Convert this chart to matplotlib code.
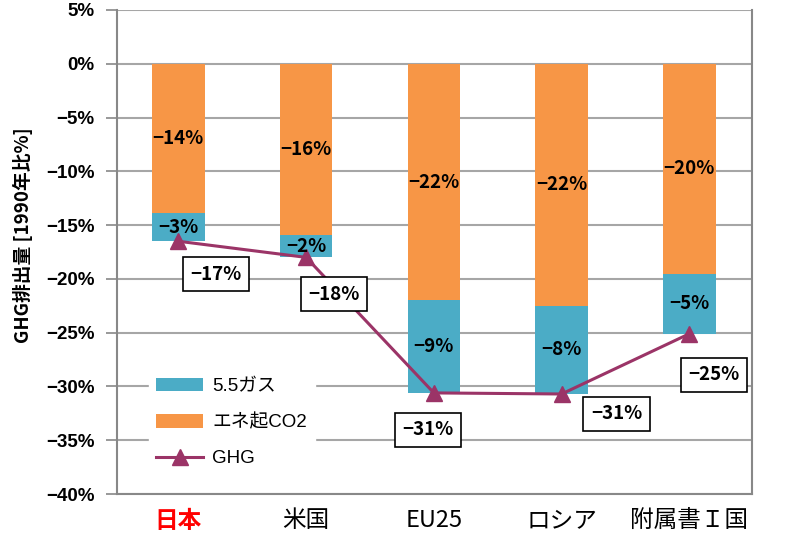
import matplotlib
matplotlib.use("Agg")
import matplotlib.pyplot as plt
import numpy as np

plt.rcParams['font.family'] = ['Noto Sans CJK JP', 'DejaVu Sans']

# data
categories = ["日本", "米国", "EU25", "ロシア", "附属書Ｉ国"]
energy_co2 = [-13.9, -15.9, -22.0, -22.5, -19.5]
gas55 = [-2.6, -2.1, -8.6, -8.2, -5.6]
ghg = [-16.5, -18.0, -30.6, -30.7, -25.1]
energy_labels = ["−14%", "−16%", "−22%", "−22%", "−20%"]
gas_labels = ["−3%", "−2%", "−9%", "−8%", "−5%"]
ghg_labels = ["−17%", "−18%", "−31%", "−31%", "−25%"]
yticks = list(range(5, -45, -5))

c_orange = "#F79646"
c_cyan = "#4BACC6"
c_line = "#9B3467"
lat = ['Liberation Sans', 'Noto Sans CJK JP']

fig = plt.figure(figsize=(7.86, 5.43), dpi=100)
ax = fig.add_axes([0.1489, 0.0902, 0.8078, 0.8914])

x = np.arange(len(categories))
w = 0.41
ax.bar(x, energy_co2, w, color=c_orange, label="エネ起CO2", zorder=2)
ax.bar(x, gas55, w, bottom=energy_co2, color=c_cyan, label="5.5ガス", zorder=2)
ax.plot(x, ghg, color=c_line, lw=2.2, marker="^", ms=11, label="GHG", zorder=4)

# labels inside the bars
for i in range(len(x)):
    ax.text(x[i], energy_co2[i] / 2, energy_labels[i], ha="center", va="center",
            fontsize=13.5, fontweight="bold", zorder=5)
    ax.text(x[i], energy_co2[i] + gas55[i] / 2, gas_labels[i], ha="center", va="center",
            fontsize=13.5, fontweight="bold", zorder=5)

# boxed GHG labels
offs = [(38, -33), (28, -37), (-6, -37), (55, -20), (25, -41)]
for i in range(len(x)):
    ax.annotate(ghg_labels[i], (x[i], ghg[i]), xytext=offs[i], textcoords="offset pixels",
                ha="center", va="center", fontsize=13.5, fontweight="bold", zorder=6,
                bbox=dict(boxstyle="square,pad=0.4", fc="white", ec="black", lw=1.2))

ax.set_ylim(-40, 5)
ax.set_xlim(-0.48, 4.49)
ax.set_yticks(yticks)
ax.set_yticklabels([f"{t}%".replace("-", "−") for t in yticks], fontsize=13.5,
                   fontweight="bold", family=lat)
ax.set_xticks(x)
ax.set_xticklabels(categories, fontsize=17)
ax.get_xticklabels()[0].set_color("red")
ax.get_xticklabels()[0].set_fontweight("bold")
ax.tick_params(axis="x", length=0, pad=11)
ax.tick_params(axis="y", length=8, color="#888888", width=1.2, direction="out", pad=8)
ax.yaxis.grid(True, color="#A6A6A6", lw=1.5, zorder=0)
ax.set_axisbelow(True)
for s in ["left", "right", "bottom"]:
    ax.spines[s].set_color("#888888")
    ax.spines[s].set_linewidth(1.5)
ax.spines["top"].set_visible(False)
ax.set_ylabel("GHG排出量 [1990年比%]", fontsize=13.5, fontweight="bold")
ax.yaxis.set_label_coords(-0.132, 0.535)

h, l = ax.get_legend_handles_labels()
order = [l.index("5.5ガス"), l.index("エネ起CO2"), l.index("GHG")]
leg = ax.legend([h[k] for k in order], [l[k] for k in order], loc="lower left",
                bbox_to_anchor=(0.035, 0.02), frameon=True, fancybox=False, framealpha=1,
                edgecolor="white", prop={'family': lat, 'size': 13.5},
                handlelength=2.5, labelspacing=1.0, handletextpad=0.5)
leg.set_zorder(3)

fig.savefig("out.png", dpi=100)
